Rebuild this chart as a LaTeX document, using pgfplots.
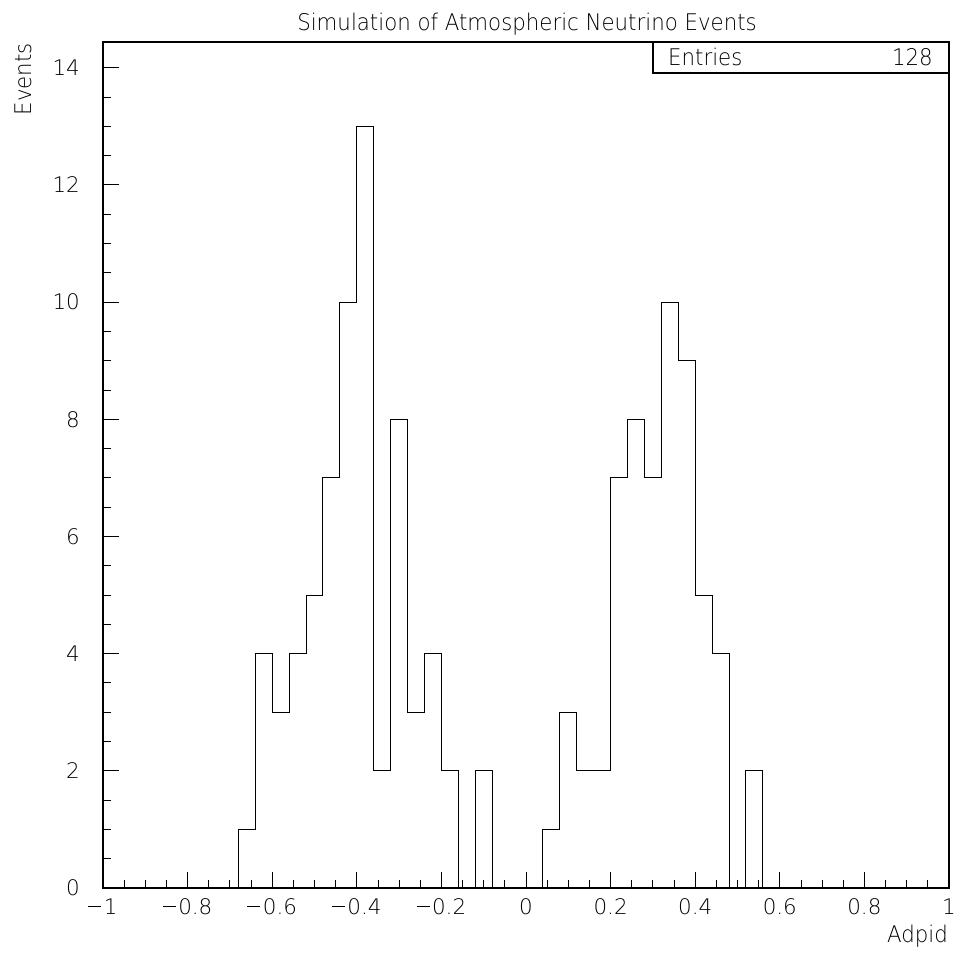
\documentclass[border=0pt]{standalone}
\usepackage{fontspec}
\setmainfont{DejaVu Sans ExtraLight}
\newfontfamily\lbl{DejaVu Sans ExtraLight}[FakeStretch=0.93]
\usepackage{pgfplots}
\pgfplotsset{compat=1.18}
\newcommand{\mn}{\rule[0.33em]{0.6em}{0.7pt}\hspace{0.12em}}
\begin{document}
\begin{tikzpicture}
\begin{axis}[
  scale only axis,
  width=846bp, height=846bp,
  xmin=-1, xmax=1, ymin=0, ymax=14.44,
  xtick={-1,-0.8,-0.6,-0.4,-0.2,0,0.2,0.4,0.6,0.8,1},
  xticklabels={\mn1,\mn0.8,\mn0.6,\mn0.4,\mn0.2,0,0.2,0.4,0.6,0.8,1},
  ytick={0,2,4,6,8,10,12,14},
  yticklabels={0,2,4,6,8,10,12,14},
  minor x tick num=3, minor y tick num=3,
  tick align=inside, tick pos=left,
  major tick length=16bp, minor tick length=8bp,
  every tick/.style={black, line width=0.9bp},
  axis line style={line width=1.2bp},
  xticklabel style={anchor=base, inner sep=0pt, yshift=-26bp, font=\fontsize{21.5}{21.5}\selectfont},
  yticklabel style={anchor=east, inner sep=0pt, xshift=-23bp, font=\fontsize{21.5}{21.5}\selectfont},
  clip=false,
]
\addplot[const plot mark left, black, line width=1bp] coordinates {
(-1.00,0) (-0.96,0) (-0.92,0) (-0.88,0) (-0.84,0) (-0.80,0) (-0.76,0) (-0.72,0)
(-0.68,1) (-0.64,4) (-0.60,3) (-0.56,4) (-0.52,5) (-0.48,7) (-0.44,10) (-0.40,13)
(-0.36,2) (-0.32,8) (-0.28,3) (-0.24,4) (-0.20,2) (-0.16,0) (-0.12,2) (-0.08,0)
(-0.04,0) (0.00,0) (0.04,1) (0.08,3) (0.12,2) (0.16,2) (0.20,7) (0.24,8)
(0.28,7) (0.32,10) (0.36,9) (0.40,5) (0.44,4) (0.48,0) (0.52,2) (0.56,0)
(0.60,0) (0.64,0) (0.68,0) (0.72,0) (0.76,0) (0.80,0) (0.84,0) (0.88,0)
(0.92,0) (0.96,0) (1.00,0)
};
\end{axis}
\draw[line width=1.2bp] (550bp,846bp) |- (846bp,815bp);
\node[anchor=base west, inner sep=0pt, font=\lbl\fontsize{23}{23}\selectfont] at (565bp,822bp) {Entries};
\node[anchor=base east, inner sep=0pt, font=\lbl\fontsize{23}{23}\selectfont] at (830bp,822bp) {128};
\node[anchor=base, inner sep=0pt, font=\lbl\fontsize{23}{23}\selectfont] at (424bp,857bp) {Simulation of Atmospheric Neutrino Events};
\node[anchor=base east, inner sep=0pt, rotate=90, font=\lbl\fontsize{23}{23}\selectfont] at (-71bp,845bp) {Events};
\node[anchor=base east, inner sep=0pt, font=\lbl\fontsize{23}{23}\selectfont] at (845bp,-54bp) {Adpid};
\pgfresetboundingbox
\useasboundingbox (-103bp,-66bp) rectangle (852bp,888bp);
\end{tikzpicture}
\end{document}
